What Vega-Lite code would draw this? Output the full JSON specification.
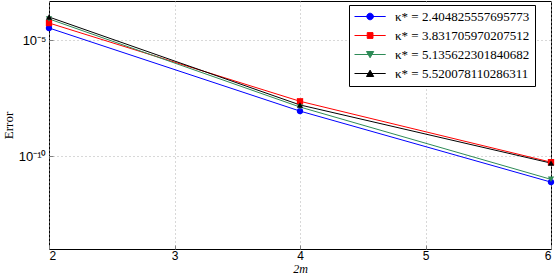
{
  "$schema": "https://vega.github.io/schema/vega-lite/v6.json",
  "width": 502,
  "height": 248,
  "autosize": "none",
  "padding": {"left": 49, "top": 1, "right": 5, "bottom": 31},
  "background": "white",
  "config": {
    "view": {"stroke": "black", "strokeWidth": 1},
    "axis": {
      "grid": true,
      "gridColor": "#b0b0b0",
      "gridDash": [1, 3],
      "gridWidth": 1,
      "domain": false,
      "tickColor": "#808080",
      "tickSize": -4,
      "labelFont": "Liberation Sans",
      "labelFontSize": 12,
      "labelColor": "black",
      "titleColor": "black",
      "titleFont": "Liberation Serif",
      "titleFontSize": 12,
      "titleFontWeight": "normal"
    }
  },
  "data": {
    "values": [
      {"series": "κ* = 2.404825557695773", "k": "2.404825557695773", "m2": 2, "err": 3.3e-5},
      {"series": "κ* = 2.404825557695773", "k": "2.404825557695773", "m2": 4, "err": 8.7e-9},
      {"series": "κ* = 2.404825557695773", "k": "2.404825557695773", "m2": 6, "err": 7.6e-12},
      {"series": "κ* = 3.831705970207512", "k": "3.831705970207512", "m2": 2, "err": 5.4e-5},
      {"series": "κ* = 3.831705970207512", "k": "3.831705970207512", "m2": 4, "err": 2.3e-8},
      {"series": "κ* = 3.831705970207512", "k": "3.831705970207512", "m2": 6, "err": 5.5e-11},
      {"series": "κ* = 5.135622301840682", "k": "5.135622301840682", "m2": 2, "err": 8.1e-5},
      {"series": "κ* = 5.135622301840682", "k": "5.135622301840682", "m2": 4, "err": 1.3e-8},
      {"series": "κ* = 5.135622301840682", "k": "5.135622301840682", "m2": 6, "err": 1.0e-11},
      {"series": "κ* = 5.520078110286311", "k": "5.520078110286311", "m2": 2, "err": 9.8e-5},
      {"series": "κ* = 5.520078110286311", "k": "5.520078110286311", "m2": 4, "err": 1.6e-8},
      {"series": "κ* = 5.520078110286311", "k": "5.520078110286311", "m2": 6, "err": 5.0e-11}
    ]
  },
  "encoding": {
    "x": {
      "field": "m2",
      "type": "quantitative",
      "scale": {"domain": [2, 6], "nice": false},
      "axis": {
        "values": [2, 3, 4, 5, 6],
        "format": "d",
        "title": "2m",
        "titleFontStyle": "italic",
        "labelPadding": 5,
        "titlePadding": 2
      }
    },
    "y": {
      "field": "err",
      "type": "quantitative",
      "scale": {"type": "log", "domain": [1e-14, 4.8e-4], "nice": false},
      "axis": {
        "values": [1e-10, 1e-5],
        "labelExpr": "datum.value < 1e-7 ? '10⁻¹⁰' : '10⁻⁵'",
        "labelFontSize": 13,
        "title": "Error",
        "titleFontSize": 13,
        "labelPadding": 7,
        "titlePadding": 3
      }
    },
    "color": {
      "field": "series",
      "type": "nominal",
      "scale": {
        "domain": ["κ* = 2.404825557695773", "κ* = 3.831705970207512", "κ* = 5.135622301840682", "κ* = 5.520078110286311"],
        "range": ["#0000ff", "#ff0000", "#2e8b57", "#000000"]
      },
      "legend": {
        "title": null,
        "orient": "none",
        "legendX": 300,
        "legendY": 4,
        "strokeColor": "black",
        "fillColor": "white",
        "padding": 5,
        "symbolSize": 144,
        "labelOffset": 28,
        "labelFont": "Liberation Serif",
        "labelFontSize": 13,
        "labelColor": "black",
        "labelLimit": 300,
        "rowPadding": 5,
        "encode": {
          "symbols": {
            "update": {
              "shape": {"signal": "indexof(datum.value, '2.404') >= 0 ? 'M-1,0H4.2M2.15,0A0.55,0.55,0,1,1,1.05,0A0.55,0.55,0,1,1,2.15,0Z' : indexof(datum.value, '3.831') >= 0 ? 'M-1,0H4.2M1.12,-0.48H2.08V0.48H1.12Z' : indexof(datum.value, '5.135') >= 0 ? 'M-1,0H4.2M1.0,-0.5L2.2,-0.5L1.6,0.55Z' : 'M-1,0H4.2M1.6,-0.55L2.2,0.5L1.0,0.5Z'"},
              "fill": {"signal": "scale('color', datum.value)"},
              "stroke": {"signal": "scale('color', datum.value)"},
              "strokeWidth": {"value": 1},
              "opacity": {"value": 1}
            }
          }
        }
      }
    }
  },
  "layer": [
    {"mark": {"type": "line", "strokeWidth": 1}},
    {
      "mark": {"type": "point", "filled": true, "opacity": 1, "size": 40},
      "encoding": {
        "shape": {
          "field": "k",
          "type": "nominal",
          "scale": {
            "domain": ["2.404825557695773", "3.831705970207512", "5.135622301840682", "5.520078110286311"],
            "range": ["circle", "square", "triangle-down", "triangle-up"]
          },
          "legend": null
        }
      }
    }
  ]
}
